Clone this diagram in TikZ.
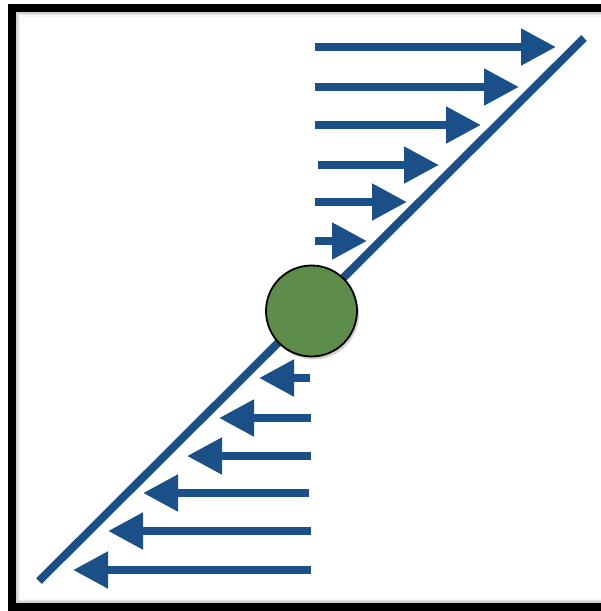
\documentclass[tikz,border=0pt]{standalone}
\usetikzlibrary{arrows.meta, shadows}
\definecolor{flowblue}{HTML}{1A4F87}
\definecolor{ballgreen}{HTML}{5E8C4B}

\begin{document}
\begin{tikzpicture}[
      x=1pt, y=-1pt,
      flow/.style={draw=flowblue, line width=8pt, -{Triangle[length=35pt, width=35pt]}},
      wall/.style={draw=flowblue, line width=8pt},
      ball/.style={circle, draw=black, line width=1.8pt, fill=ballgreen, minimum size=91pt, inner sep=0pt,
        drop shadow={shadow xshift=2pt, shadow yshift=-3pt, opacity=0.35}},
    ]
    \useasboundingbox (0,0) rectangle (601,611);
    \clip (0,0) rectangle (601,611);

    % frame, with a soft inner shadow
    \foreach \d/\o in {4/0.10, 7/0.06, 10/0.03}
      \draw[black, opacity=\o, line width=\d pt] (15.5,11.5) rectangle (640,603);
    \draw[black, line width=8pt] (11.5,7.5) rectangle (640,607);

    % sliding plane
    \coordinate (lowend) at (39,581);
    \coordinate (highend) at (584,38);
    \draw[wall] (lowend) -- (highend);

    % flow above the ball, to the right
    \foreach \y/\xs/\xt in {47/315/556, 87/315/519, 125/315/481, 165/318/439, 202/315/407, 241/315/367}
      \draw[flow] (\xs,\y) -- (\xt,\y);

    % flow below the ball, to the left
    \foreach \y/\xs/\xt in {378/310/259, 418/311/219, 456/311/187, 493/309/143, 531/311/108, 570/311/73}
      \draw[flow] (\xs,\y) -- (\xt,\y);

    \node[ball] (centre) at (311.5,311) {};
  \end{tikzpicture}
\end{document}
